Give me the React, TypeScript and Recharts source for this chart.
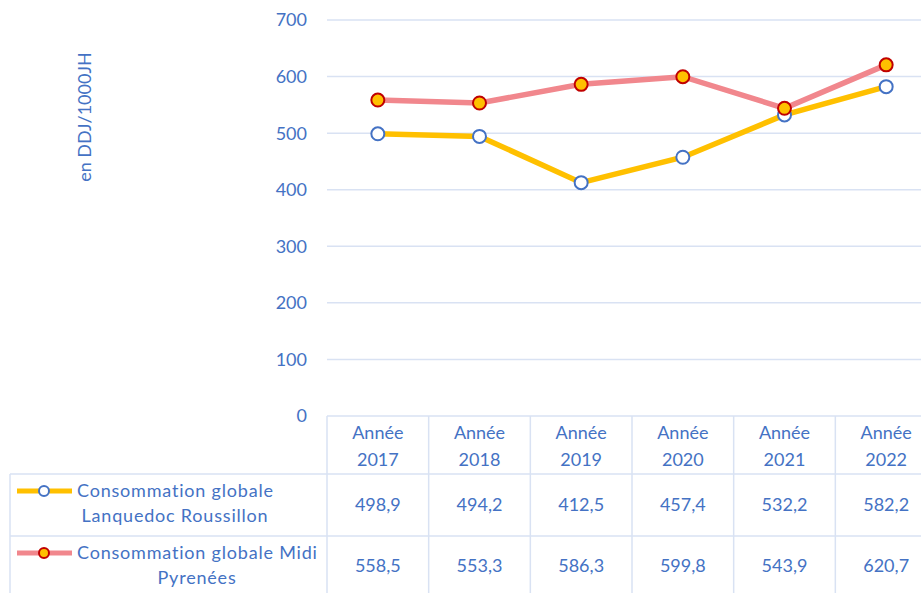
import React from 'react';
import { LineChart, Line, XAxis, YAxis, CartesianGrid } from 'recharts';

const years = ['2017', '2018', '2019', '2020', '2021', '2022'];
const languedoc = [498.9, 494.2, 412.5, 457.4, 532.2, 582.2];
const midiPyrenees = [558.5, 553.3, 586.3, 599.8, 543.9, 620.7];
const yTicks = [0, 100, 200, 300, 400, 500, 600, 700];
const labelLR = ['Consommation globale', 'Lanquedoc Roussillon'];
const labelMP = ['Consommation globale Midi', 'Pyrenées'];

const BLUE = '#4472C4';
const GRID = '#D9E2F3';
const YELLOW = '#FFC000';
const PINK = '#F1878D';
const DARK_RED = '#C00000';
const FONT = 'Lato, "Open Sans", sans-serif';
const FS = 18;

const PLOT_LEFT = 327;
const PLOT_WIDTH = 610;
const BAND = PLOT_WIDTH / years.length;

const data = years.map((y, i) => ({ year: y, lr: languedoc[i], mp: midiPyrenees[i] }));

const fmt = (v: number) => v.toFixed(1).replace('.', ',');

// each x tick draws one column of the data table under the plot
const TableTick = (props: any) => {
  const { x, y, payload } = props;
  const i = years.indexOf(payload.value);
  const left = x - BAND / 2;
  return (
    <g fontFamily={FONT} fontSize={FS}>
      <line x1={left} x2={left} y1={y} y2={y + 200} stroke={GRID} strokeWidth={1.5} />
      <text x={x} y={y + 23} textAnchor="middle" fill={BLUE}>Année</text>
      <text x={x} y={y + 50} textAnchor="middle" fill={BLUE}>{payload.value}</text>
      <text x={x} y={y + 95} textAnchor="middle" fill={BLUE}>{fmt(languedoc[i])}</text>
      <text x={x} y={y + 156} textAnchor="middle" fill={BLUE}>{fmt(midiPyrenees[i])}</text>
    </g>
  );
};

const DotLR = (props: any) => (
  <circle cx={props.cx} cy={props.cy} r={6.5} fill="#FFFFFF" stroke={BLUE} strokeWidth={2} />
);
const DotMP = (props: any) => (
  <circle cx={props.cx} cy={props.cy} r={6.5} fill={YELLOW} stroke={DARK_RED} strokeWidth={2} />
);

export default function App() {
  return (
    <div style={{ position: 'fixed', left: 0, top: 0, width: 921, height: 593, overflow: 'hidden', background: '#fff', fontFamily: FONT }}>
      <LineChart width={PLOT_LEFT + PLOT_WIDTH} height={600} data={data} margin={{ top: 20, right: 0, bottom: 0, left: PLOT_LEFT - 60 }}>
        <CartesianGrid vertical={false} stroke={GRID} strokeWidth={1.5} />
        <YAxis
          width={60}
          domain={[0, 700]}
          ticks={yTicks}
          axisLine={false}
          tickLine={false}
          tickSize={0}
          tickMargin={20}
          tick={{ fill: BLUE, fontSize: FS, fontFamily: FONT }}
        />
        <XAxis
          dataKey="year"
          height={184}
          interval={0}
          padding={{ left: BAND / 2, right: BAND / 2 }}
          axisLine={false}
          tickLine={false}
          tickSize={0}
          tickMargin={0}
          tick={<TableTick />}
        />
        <Line dataKey="lr" stroke={YELLOW} strokeWidth={5.5} dot={<DotLR />} activeDot={false} isAnimationActive={false} />
        <Line dataKey="mp" stroke={PINK} strokeWidth={5.5} dot={<DotMP />} activeDot={false} isAnimationActive={false} />
      </LineChart>
      <svg width={921} height={593} style={{ position: 'absolute', left: 0, top: 0, pointerEvents: 'none' }}>
        <text x={84} y={117} transform="rotate(-90 84 117)" textAnchor="middle" dominantBaseline="central" fill={BLUE} fontSize={FS} fontFamily={FONT}>
          en DDJ/1000JH
        </text>
        <line x1={10} x2={921} y1={474} y2={474} stroke={GRID} strokeWidth={1.5} />
        <line x1={10} x2={921} y1={536} y2={536} stroke={GRID} strokeWidth={1.5} />
        <line x1={10} x2={10} y1={474} y2={593} stroke={GRID} strokeWidth={1.5} />
        <line x1={17} x2={72} y1={491} y2={491} stroke={YELLOW} strokeWidth={5} />
        <circle cx={44} cy={491} r={5} fill="#FFFFFF" stroke={BLUE} strokeWidth={2} />
        <line x1={17} x2={72} y1={553} y2={553} stroke={PINK} strokeWidth={5} />
        <circle cx={44} cy={553} r={5} fill={YELLOW} stroke={DARK_RED} strokeWidth={2} />
        <g fontFamily={FONT} fontSize={FS} fill={BLUE} letterSpacing={0.8}>
          <text x={77} y={497}>{labelLR[0]}</text>
          <text x={175} y={522} textAnchor="middle">{labelLR[1]}</text>
          <text x={77} y={559}>{labelMP[0]}</text>
          <text x={197} y={584} textAnchor="middle">{labelMP[1]}</text>
        </g>
      </svg>
    </div>
  );
}
